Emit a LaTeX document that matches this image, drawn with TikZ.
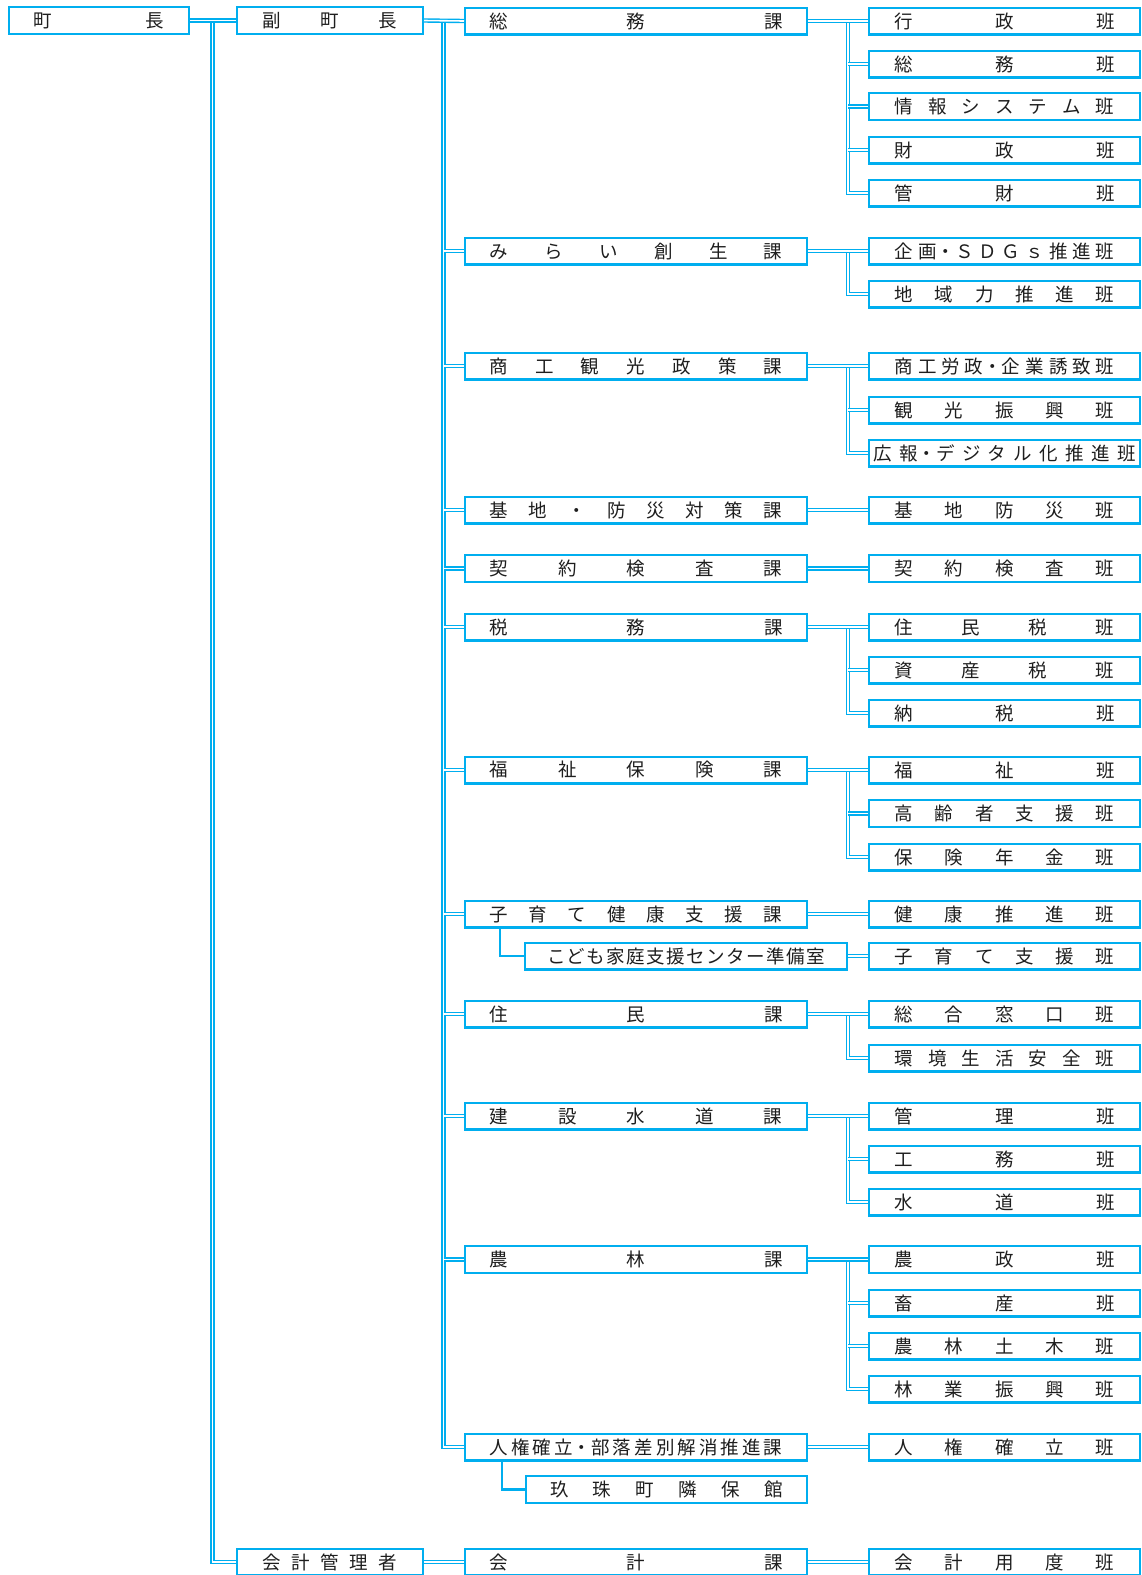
\documentclass[tikz,border=0pt]{standalone}
\usepackage{fontspec}
\newfontfamily\jpf{Noto Sans CJK JP}
\definecolor{boxc}{RGB}{0,174,239}
\definecolor{txt}{RGB}{30,30,30}
\newcommand\jt[2]{\makebox[#1pt][s]{#2}}
\tikzset{
  box/.style={draw=boxc, line width=2.4pt, minimum height=26.6pt, inner sep=0pt, text=txt, font=\jpf\fontsize{18.5}{18.5}\selectfont},
  cA/.style={box, minimum width=179.6pt},
  cB/.style={box, minimum width=185.6pt},
  cC/.style={box, minimum width=341.6pt},
  cD/.style={box, minimum width=270.6pt},
  dbl/.style={draw=boxc, line width=1.4pt, double=white, double distance=1.6pt},
  sgl/.style={draw=boxc, line width=2.2pt},
}
\begin{document}
\begin{tikzpicture}[x=1pt,y=-1pt]
\useasboundingbox (0,0) rectangle (1142,1575);
% column 1 & 2
\node[cA] (chocho) at (99,20.5) {\jt{130}{町\hfill 長}};
\node[cB] (fuku) at (330,20.5) {\jt{135}{副\hfill 町\hfill 長}};
\node[cB] (kanrisha) at (330,1562) {\jt{135}{会\hfill 計\hfill 管\hfill 理\hfill 者}};
% column 3
\node[cC] (soumu) at (636,21) {\jt{293}{総\hfill 務\hfill 課}};
\node[cC] (mirai) at (636,251) {\jt{293}{み\hfill ら\hfill い\hfill 創\hfill 生\hfill 課}};
\node[cC] (shoko) at (636,366) {\jt{293}{商\hfill 工\hfill 観\hfill 光\hfill 政\hfill 策\hfill 課}};
\node[cC] (kichi) at (636,510) {\jt{293}{基\hfill 地\hfill ・\hfill 防\hfill 災\hfill 対\hfill 策\hfill 課}};
\node[cC] (keiyaku) at (636,568.5) {\jt{293}{契\hfill 約\hfill 検\hfill 査\hfill 課}};
\node[cC] (zeimu) at (636,627) {\jt{293}{税\hfill 務\hfill 課}};
\node[cC] (fukushi) at (636,770) {\jt{293}{福\hfill 祉\hfill 保\hfill 険\hfill 課}};
\node[cC] (kosodate) at (636,914) {\jt{293}{子\hfill 育\hfill て\hfill 健\hfill 康\hfill 支\hfill 援\hfill 課}};
\node[box, minimum width=321.6pt] (kodomo) at (686,956) {\jt{278}{こ\hfill ど\hfill も\hfill 家\hfill 庭\hfill 支\hfill 援\hfill セ\hfill ン\hfill タ\hfill ー\hfill 準\hfill 備\hfill 室}};
\node[cC] (jumin) at (636,1014) {\jt{293}{住\hfill 民\hfill 課}};
\node[cC] (kensetsu) at (636,1116) {\jt{293}{建\hfill 設\hfill 水\hfill 道\hfill 課}};
\node[cC] (norin) at (636,1259.5) {\jt{293}{農\hfill 林\hfill 課}};
\node[cC] (jinken) at (636,1447) {\jt{293}{人\hfill 権\hfill 確\hfill 立・部\hfill 落\hfill 差\hfill 別\hfill 解\hfill 消\hfill 推\hfill 進\hfill 課}};
\node[box, minimum width=280.6pt] (kusu) at (666.5,1489.5) {\jt{233}{玖\hfill 珠\hfill 町\hfill 隣\hfill 保\hfill 館}};
\node[cC] (kaikeika) at (636,1562) {\jt{293}{会\hfill 計\hfill 課}};
% column 4
\node[cD] (gyosei) at (1004.5,21) {\jt{220}{行\hfill 政\hfill 班}};
\node[cD] (soumuhan) at (1004.5,64) {\jt{220}{総\hfill 務\hfill 班}};
\node[cD] (joho) at (1004.5,106.5) {\jt{220}{情\hfill 報\hfill シ\hfill ス\hfill テ\hfill ム\hfill 班}};
\node[cD] (zaisei) at (1004.5,150) {\jt{220}{財\hfill 政\hfill 班}};
\node[cD] (kanzai) at (1004.5,193) {\jt{220}{管\hfill 財\hfill 班}};
\node[cD] (kikaku) at (1004.5,251) {\jt{220}{企\hfill 画・Ｓ\hfill Ｄ\hfill Ｇ\hfill ｓ\hfill 推\hfill 進\hfill 班}};
\node[cD] (chiiki) at (1004.5,294) {\jt{220}{地\hfill 域\hfill 力\hfill 推\hfill 進\hfill 班}};
\node[cD] (shokohan) at (1004.5,366) {\jt{220}{商\hfill 工\hfill 労\hfill 政・企\hfill 業\hfill 誘\hfill 致\hfill 班}};
\node[cD] (kanko) at (1004.5,410) {\jt{220}{観\hfill 光\hfill 振\hfill 興\hfill 班}};
\node[cD] (koho) at (1004.5,453) {\jt{262}{広\hfill 報・デ\hfill ジ\hfill タ\hfill ル\hfill 化\hfill 推\hfill 進\hfill 班}};
\node[cD] (kichihan) at (1004.5,510) {\jt{220}{基\hfill 地\hfill 防\hfill 災\hfill 班}};
\node[cD] (keiyakuhan) at (1004.5,568.5) {\jt{220}{契\hfill 約\hfill 検\hfill 査\hfill 班}};
\node[cD] (juminzei) at (1004.5,627) {\jt{220}{住\hfill 民\hfill 税\hfill 班}};
\node[cD] (shisan) at (1004.5,670) {\jt{220}{資\hfill 産\hfill 税\hfill 班}};
\node[cD] (nozei) at (1004.5,713) {\jt{220}{納\hfill 税\hfill 班}};
\node[cD] (fukushihan) at (1004.5,770) {\jt{220}{福\hfill 祉\hfill 班}};
\node[cD] (koreisha) at (1004.5,813.5) {\jt{220}{高\hfill 齢\hfill 者\hfill 支\hfill 援\hfill 班}};
\node[cD] (hoken) at (1004.5,857) {\jt{220}{保\hfill 険\hfill 年\hfill 金\hfill 班}};
\node[cD] (kenko) at (1004.5,914) {\jt{220}{健\hfill 康\hfill 推\hfill 進\hfill 班}};
\node[cD] (kosodatehan) at (1004.5,956) {\jt{220}{子\hfill 育\hfill て\hfill 支\hfill 援\hfill 班}};
\node[cD] (sogo) at (1004.5,1014) {\jt{220}{総\hfill 合\hfill 窓\hfill 口\hfill 班}};
\node[cD] (kankyo) at (1004.5,1058) {\jt{220}{環\hfill 境\hfill 生\hfill 活\hfill 安\hfill 全\hfill 班}};
\node[cD] (kanri) at (1004.5,1116) {\jt{220}{管\hfill 理\hfill 班}};
\node[cD] (komu) at (1004.5,1159) {\jt{220}{工\hfill 務\hfill 班}};
\node[cD] (suido) at (1004.5,1202) {\jt{220}{水\hfill 道\hfill 班}};
\node[cD] (nosei) at (1004.5,1259.5) {\jt{220}{農\hfill 政\hfill 班}};
\node[cD] (chikusan) at (1004.5,1303) {\jt{220}{畜\hfill 産\hfill 班}};
\node[cD] (doboku) at (1004.5,1346) {\jt{220}{農\hfill 林\hfill 土\hfill 木\hfill 班}};
\node[cD] (ringyo) at (1004.5,1389) {\jt{220}{林\hfill 業\hfill 振\hfill 興\hfill 班}};
\node[cD] (jinkenhan) at (1004.5,1447) {\jt{220}{人\hfill 権\hfill 確\hfill 立\hfill 班}};
\node[cD] (yodo) at (1004.5,1562) {\jt{220}{会\hfill 計\hfill 用\hfill 度\hfill 班}};
% trunk coordinates
\coordinate (v1) at (212.5,0);
\coordinate (v2) at (443.5,0);
\coordinate (v4) at (848,0);
% mayor
\draw[dbl] (v1 |- chocho.east) |- (kanrisha.west);
\draw[dbl] (chocho.east) -- (fuku.west);
% deputy mayor trunk
\draw[dbl] (v2 |- fuku.east) |- (jinken.west);
\draw[dbl] (fuku.east) -- (soumu.west);
\foreach \n in {mirai,shoko,kichi,keiyaku,zeimu,fukushi,kosodate,jumin,kensetsu,norin}
  \draw[dbl] (v2 |- \n.west) -- (\n.west);
% accounting
\draw[dbl] (kanrisha.east) -- (kaikeika.west);
\draw[dbl] (kaikeika.east) -- (yodo.west);
% sub offices
\draw[sgl] ([xshift=36pt]kosodate.south west) |- (kodomo.west);
\draw[sgl] ([xshift=38pt]jinken.south west) |- (kusu.west);
\draw[dbl] (kodomo.east) -- (kosodatehan.west);
% section -> teams
\draw[dbl] (v4 |- gyosei.west) |- (kanzai.west);
\foreach \n in {soumuhan,joho,zaisei} \draw[dbl] (v4 |- \n.west) -- (\n.west);
\draw[dbl] (soumu.east) -- (gyosei.west);
\draw[dbl] (v4 |- kikaku.west) |- (chiiki.west);
\draw[dbl] (mirai.east) -- (kikaku.west);
\draw[dbl] (v4 |- shokohan.west) |- (koho.west);
\draw[dbl] (v4 |- kanko.west) -- (kanko.west);
\draw[dbl] (shoko.east) -- (shokohan.west);
\draw[dbl] (kichi.east) -- (kichihan.west);
\draw[dbl] (keiyaku.east) -- (keiyakuhan.west);
\draw[dbl] (v4 |- juminzei.west) |- (nozei.west);
\draw[dbl] (v4 |- shisan.west) -- (shisan.west);
\draw[dbl] (zeimu.east) -- (juminzei.west);
\draw[dbl] (v4 |- fukushihan.west) |- (hoken.west);
\draw[dbl] (v4 |- koreisha.west) -- (koreisha.west);
\draw[dbl] (fukushi.east) -- (fukushihan.west);
\draw[dbl] (kosodate.east) -- (kenko.west);
\draw[dbl] (v4 |- sogo.west) |- (kankyo.west);
\draw[dbl] (jumin.east) -- (sogo.west);
\draw[dbl] (v4 |- kanri.west) |- (suido.west);
\draw[dbl] (v4 |- komu.west) -- (komu.west);
\draw[dbl] (kensetsu.east) -- (kanri.west);
\draw[dbl] (v4 |- nosei.west) |- (ringyo.west);
\foreach \n in {chikusan,doboku} \draw[dbl] (v4 |- \n.west) -- (\n.west);
\draw[dbl] (norin.east) -- (nosei.west);
\draw[dbl] (jinken.east) -- (jinkenhan.west);
\end{tikzpicture}
\end{document}
